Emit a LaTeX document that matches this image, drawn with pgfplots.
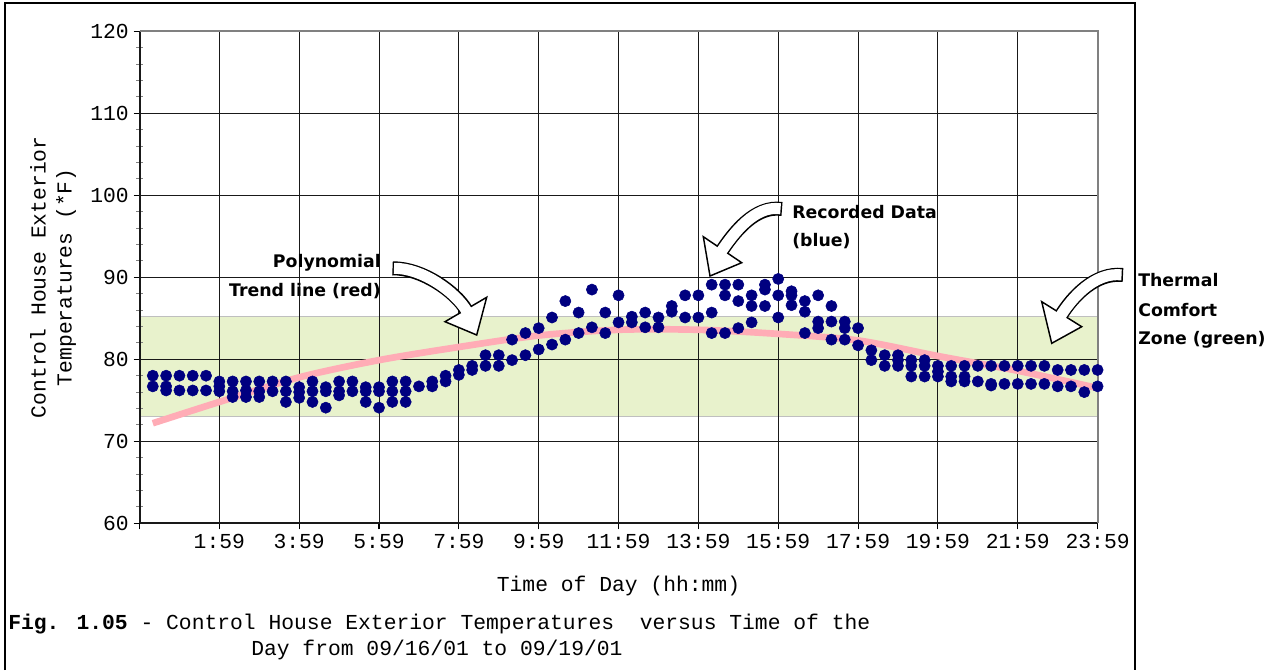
\documentclass[border=0pt]{standalone}
\usepackage{fontspec}
\setmainfont{Liberation Mono}
\newfontfamily\annotfont{DejaVu Sans}
\usepackage{pgfplots}
\pgfplotsset{compat=1.18}
\definecolor{navy}{HTML}{000080}
\definecolor{zone}{RGB}{232,242,204}
\definecolor{trend}{RGB}{255,172,182}

\begin{document}
\begin{tikzpicture}
\begin{scope}[x=0.75pt,y=-0.75pt]
\useasboundingbox (0,0) rectangle (1285,668);
\end{scope}
\begin{axis}[
  at={(104.625pt,-392.475pt)}, anchor=south west,
  scale only axis, width=718.575pt, height=369pt,
  xmin=0, xmax=24, ymin=60, ymax=120,
  xtick={0,2,...,24},
  xticklabels={,1:59,3:59,5:59,7:59,9:59,11:59,13:59,15:59,17:59,19:59,21:59,23:59},
  ytick={60,70,...,120}, minor y tick num=4,
  grid=major,
  major grid style={black!90, line width=0.7pt},
  axis x line*=bottom, axis y line*=left,
  axis line style={black!90, line width=1.5pt},
  tick align=outside,
  major tick length=4.5pt, minor tick length=5pt,
  every minor tick/.append style={xshift=2.5pt, line width=0.8pt},
  every major tick/.append style={line width=0.8pt, black},
  tick label style={font=\fontsize{16}{19}\selectfont},
  /pgf/number format/assume math mode=true,
  clip=false, set layers,
]
\addplot[on layer=axis background, fill=zone, draw=gray!50, line width=0.9pt]
  coordinates {(0,73) (24,73) (24,85.2) (0,85.2)} -- cycle;

\addplot[only marks, mark=*, mark size=4.2pt, navy, mark options={fill=navy, draw=navy}] coordinates {
(0.333,78.0) (0.333,76.7)
(0.667,78.0) (0.667,76.7) (0.667,76.2)
(1.0,78.0) (1.0,76.2)
(1.333,78.0) (1.333,76.2)
(1.667,78.0) (1.667,76.2)
(2.0,77.3) (2.0,76.7) (2.0,76.1)
(2.333,77.3) (2.333,76.1) (2.333,75.4)
(2.667,77.3) (2.667,76.2) (2.667,75.4)
(3.0,77.3) (3.0,76.1) (3.0,75.4)
(3.333,77.3) (3.333,76.1)
(3.667,77.3) (3.667,76.1) (3.667,74.8)
(4.0,76.6) (4.0,76.0) (4.0,75.3)
(4.333,77.3) (4.333,76.1) (4.333,74.8)
(4.667,76.6) (4.667,76.1) (4.667,74.1)
(5.0,77.3) (5.0,76.1) (5.0,75.6)
(5.333,77.3) (5.333,76.1)
(5.667,76.6) (5.667,76.1) (5.667,74.8)
(6.0,76.6) (6.0,76.1) (6.0,74.1)
(6.333,77.3) (6.333,76.1) (6.333,74.8)
(6.667,77.3) (6.667,76.1) (6.667,74.8)
(7.0,76.7)
(7.333,77.3) (7.333,76.7)
(7.667,78.0) (7.667,77.3)
(8.0,78.7) (8.0,78.1)
(8.333,79.2) (8.333,78.7)
(8.667,80.5) (8.667,79.2)
(9.0,80.5) (9.0,79.2)
(9.333,82.4) (9.333,79.9)
(9.667,83.2) (9.667,80.5)
(10.0,83.8) (10.0,81.2)
(10.333,85.1) (10.333,81.8)
(10.667,87.1) (10.667,82.4)
(11.0,85.7) (11.0,83.2)
(11.333,88.5) (11.333,83.9)
(11.667,85.7) (11.667,83.2)
(12.0,87.8) (12.0,84.5)
(12.333,85.2) (12.333,84.5)
(12.667,85.7) (12.667,83.9)
(13.0,85.1) (13.0,83.9)
(13.333,86.5) (13.333,85.8)
(13.667,87.8) (13.667,85.1)
(14.0,87.8) (14.0,85.1)
(14.333,89.1) (14.333,85.7) (14.333,83.2)
(14.667,89.1) (14.667,87.8) (14.667,83.2)
(15.0,89.1) (15.0,87.1) (15.0,83.8)
(15.333,87.8) (15.333,86.5) (15.333,84.5)
(15.667,89.1) (15.667,88.5) (15.667,86.5)
(16.0,89.8) (16.0,87.8) (16.0,85.1)
(16.333,88.3) (16.333,87.8) (16.333,86.6)
(16.667,87.1) (16.667,85.8) (16.667,83.2)
(17.0,87.8) (17.0,84.6) (17.0,83.8)
(17.333,86.5) (17.333,84.6) (17.333,82.4)
(17.667,84.6) (17.667,83.8) (17.667,82.4)
(18.0,83.8) (18.0,81.7)
(18.333,81.1) (18.333,79.9)
(18.667,80.5) (18.667,79.2)
(19.0,80.5) (19.0,79.9) (19.0,79.2)
(19.333,79.9) (19.333,79.2) (19.333,77.9)
(19.667,79.9) (19.667,79.2) (19.667,77.9)
(20.0,79.2) (20.0,78.5) (20.0,77.9)
(20.333,79.2) (20.333,77.9) (20.333,77.3)
(20.667,79.2) (20.667,77.9) (20.667,77.3)
(21.0,79.2) (21.0,77.3)
(21.333,79.2) (21.333,77.0) (21.333,76.8)
(21.667,79.2) (21.667,77.0)
(22.0,79.2) (22.0,77.0)
(22.333,79.2) (22.333,77.0)
(22.667,79.2) (22.667,77.0)
(23.0,78.7) (23.0,76.7)
(23.333,78.7) (23.333,76.7)
(23.667,78.7) (23.667,76.0)
(24.0,78.7) (24.0,76.7)
};

\addplot[smooth, trend, line width=5pt] coordinates {
(0.333,72.2) (2,74.8) (4,77.8) (6,79.9) (8,81.5) (10,82.9) (12,83.6)
(14,83.6) (16,83.1) (18,82.3) (20,80.4) (22,78.6) (24,76.5)
};

\draw[gray, line width=1.5pt] (rel axis cs:0,1) -- (rel axis cs:1,1) -- (rel axis cs:1,0);
\end{axis}

\begin{scope}[x=0.75pt,y=-0.75pt]
% frame
\draw[line width=1.1pt] (5,670) -- (5,3) -- (1135,3) -- (1135,670);

% axis labels
\node[rotate=90, align=center, font=\fontsize{16}{19.5}\selectfont] at (53,277.3)
  {Control House Exterior\\Temperatures (*F)};
\node[font=\fontsize{16}{19.5}\selectfont] at (618.5,586) {Time of Day (hh:mm)};

% caption
\node[anchor=base west, inner sep=0, font=\fontsize{16}{19.5}\selectfont] at (8,629)
  {\textbf{Fig. 1.05} - Control House Exterior Temperatures\ \ versus Time of the};
\node[anchor=base west, inner sep=0, font=\fontsize{16}{19.5}\selectfont] at (251,655)
  {Day from 09/16/01 to 09/19/01};

% arrow 1 (Polynomial)
\filldraw[fill=white, line width=1.1pt, line join=miter] (486.7,297.3) -- (476.7,335) -- (445,321.7) -- cycle;
\draw[line width=10.5pt] (392.5,268.3) .. controls (422.5,268) and (455.7,292.2) .. (465.8,309.5);
\draw[white, line width=8.3pt, shorten <=1.1pt, shorten >=-1.5pt] (392.5,268.3) .. controls (422.5,268) and (455.7,292.2) .. (465.8,309.5);

% arrow 2 (Recorded data)
\filldraw[fill=white, line width=1.1pt, line join=miter] (703.3,236.7) -- (710,276) -- (741.7,262.7) -- cycle;
\draw[line width=10.5pt] (782,209) .. controls (755,205) and (733.7,233.1) .. (722.5,249.7);
\draw[white, line width=8.3pt, shorten <=1.1pt, shorten >=-1.5pt] (782,209) .. controls (755,205) and (733.7,233.1) .. (722.5,249.7);

% arrow 3 (Thermal comfort)
\filldraw[fill=white, line width=1.1pt, line join=miter] (1041.7,301.7) -- (1051.7,343.3) -- (1081.7,326.7) -- cycle;
\draw[line width=10.5pt] (1123,275) .. controls (1095,272) and (1072.3,297.2) .. (1061.7,314.2);
\draw[white, line width=8.3pt, shorten <=1.1pt, shorten >=-1.5pt] (1123,275) .. controls (1095,272) and (1072.3,297.2) .. (1061.7,314.2);

% annotation texts
\begin{scope}[every node/.style={inner sep=0, font=\annotfont\bfseries\fontsize{13}{15}\selectfont}]
\node[anchor=base east] at (381,267.3) {Polynomial};
\node[anchor=base east] at (381,296.7) {Trend line (red)};
\node[anchor=base west] at (792,218.3) {Recorded Data};
\node[anchor=base west] at (792,246) {(blue)};
\node[anchor=base west] at (1138,286) {Thermal};
\node[anchor=base west] at (1138,316) {Comfort};
\node[anchor=base west] at (1138,344) {Zone (green)};
\end{scope}
\end{scope}
\end{tikzpicture}
\end{document}
